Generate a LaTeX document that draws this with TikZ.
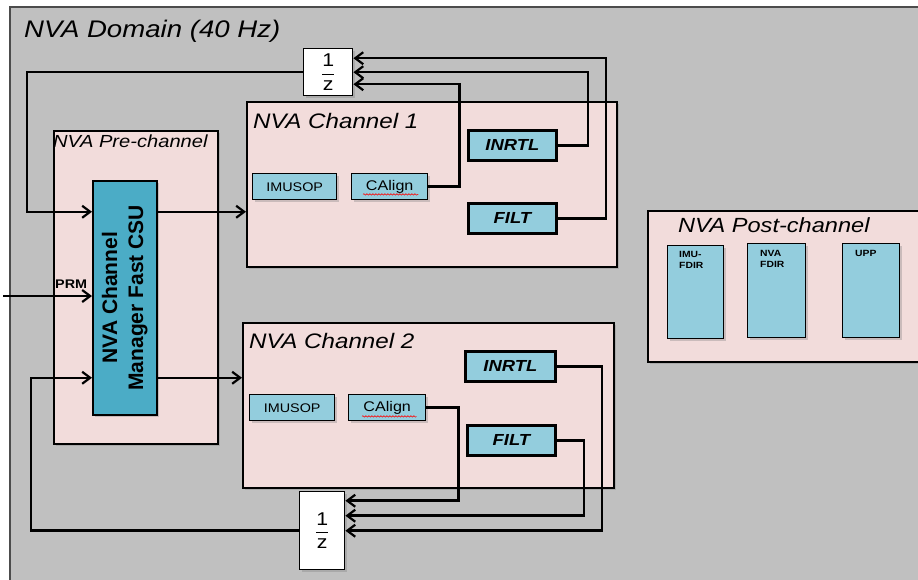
\documentclass[tikz,border=0pt]{standalone}
\usepackage{fontspec}
\setmainfont{Liberation Sans}[FakeStretch=1.15]
\newfontfamily\uprightsans{Liberation Sans}
\usetikzlibrary{positioning,calc,arrows.meta,shadows,decorations.pathmorphing}
\definecolor{domgray}{HTML}{C0C0C0}
\definecolor{chpink}{HTML}{F2DCDB}
\definecolor{unitblue}{HTML}{93CDDD}
\definecolor{mgrblue}{HTML}{4BACC6}

\begin{document}
\begin{tikzpicture}[x=1pt,y=-1pt,
    boxshadow/.style={drop shadow={shadow xshift=2pt,shadow yshift=-2pt,opacity=.35}},
    chan/.style={draw,line width=1.6pt,fill=chpink,anchor=north west,inner sep=0,boxshadow},
    unit/.style={draw,line width=1.4pt,fill=unitblue,anchor=north west,inner sep=0,boxshadow,font=\fontsize{12.5}{14}\selectfont},
    heavy/.style={unit,line width=2.8pt,font=\fontsize{16}{18}\selectfont\bfseries\itshape},
    delay/.style={draw,line width=1.4pt,fill=white,anchor=north west,inner sep=0,boxshadow,font=\fontsize{18.5}{20}\selectfont},
    title/.style={anchor=base west,inner sep=0,font=\fontsize{21}{24}\selectfont\itshape},
    tiny/.style={anchor=north west,inner sep=0,align=left,font=\fontsize{9}{11}\selectfont\bfseries},
    spell/.style={red,line width=.6pt,decorate,decoration={snake,amplitude=.7pt,segment length=3pt}},
    flow/.style={line width=2.5pt,-{Straight Barb[length=8pt,width=12pt,line width=2.2pt]}}]
    \useasboundingbox (0,0) rectangle (918,579);
    \fill[white] (0,0) rectangle (918,579);
    \fill[domgray] (10,7) rectangle (930,590);
    \draw[line width=1.5pt,black!70] (10,590) -- (10,7) -- (930,7);
    \node[title,font=\fontsize{24}{28}\selectfont\itshape] (domtitle) at (24,37) {NVA Domain (40 Hz)};

    \node[chan,minimum width=164,minimum height=313] (pre) at (53,130) {};
    \node[title,font=\fontsize{17.5}{20}\selectfont\itshape] (pretitle) at (53,147) {NVA Pre-channel};
    \node[unit,fill=mgrblue,line width=1.5pt,minimum width=64,minimum height=234] (mgr) at (92,180) {};
    \node[rotate=90,align=center,font=\uprightsans\fontsize{21}{26}\selectfont\bfseries] (mgrtext) at (mgr.center) {NVA Channel\\Manager Fast CSU};
    \node[anchor=base west,inner sep=0,font=\fontsize{12.5}{14}\selectfont\bfseries] (prm) at (55,288) {PRM};

    \node[chan,minimum width=370,minimum height=165] (ch1) at (246,101) {};
    \node[title] (ch1title) at (253,128) {NVA Channel 1};
    \node[unit,minimum width=84,minimum height=26] (imu1) at (252,173) {IMUSOP};
    \node[unit,minimum width=76,minimum height=26,font=\fontsize{14}{16}\selectfont] (cal1) at (351,173) {CAlign};
    \node[heavy,minimum width=88,minimum height=30] (inr1) at (467,129) {INRTL};
    \node[heavy,minimum width=88,minimum height=30] (fil1) at (467,202) {FILT};

    \node[chan,minimum width=371,minimum height=165] (ch2) at (242,322) {};
    \node[title] (ch2title) at (249,348) {NVA Channel 2};
    \node[unit,minimum width=85,minimum height=26] (imu2) at (249,394) {IMUSOP};
    \node[unit,minimum width=77,minimum height=26,font=\fontsize{14}{16}\selectfont] (cal2) at (348,394) {CAlign};
    \node[heavy,minimum width=90,minimum height=30] (inr2) at (464,350) {INRTL};
    \node[heavy,minimum width=88,minimum height=30] (fil2) at (466,424) {FILT};

    \node[chan,minimum width=280,minimum height=151] (post) at (647,210) {};
    \node[title,font=\fontsize{20.5}{24}\selectfont\itshape] (posttitle) at (678,232) {NVA Post-channel};
    \node[unit,minimum width=56,minimum height=93] (imuF) at (667,245) {};
    \node[unit,minimum width=58,minimum height=94] (nvaF) at (747,243) {};
    \node[unit,minimum width=57,minimum height=94] (upp) at (842,243) {};
    \node[tiny,below right=6pt and 12pt of imuF.north west] {IMU-\\FDIR};
    \node[tiny,below right=7pt and 13pt of nvaF.north west] {NVA\\FDIR};
    \node[tiny,below right=7pt and 13pt of upp.north west] {UPP};

    \node[delay,minimum width=49,minimum height=47] (zTop) at (303,48) {$\displaystyle\frac{\mbox{1}}{\mbox{z}}$};
    \node[delay,minimum width=45,minimum height=78] (zBot) at (299,491) {$\displaystyle\frac{\mbox{1}}{\mbox{z}}$};

    \draw[spell] ($(cal1.south west)+(12,-6)$) -- ($(cal1.south east)+(-10,-6)$);
    \draw[spell] ($(cal2.south west)+(14,-5)$) -- ($(cal2.south east)+(-10,-5)$);

    \coordinate (mgrInA) at ($(mgr.west)+(0,-86)$);
    \coordinate (mgrInB) at ($(mgr.west)+(0,80)$);
    \coordinate (prmIn) at (3,296);
    \draw[flow] (zTop.west) -- ++(-276,0) |- (mgrInA);
    \draw[flow] (mgr.east |- mgrInA) -- (ch1.west |- mgrInA);
    \draw[flow] (prmIn) -- (prmIn -| mgr.west);
    \draw[flow] (zBot.west) -- ++(-268,0) |- (mgrInB);
    \draw[flow] (mgr.east |- mgrInB) -- (ch2.west |- mgrInB);

    \draw[flow] (fil1.east) -- ++(48,0) |- ($(zTop.east)+(0,-14)$);
    \draw[flow] (inr1.east) -- ++(30,0) |- (zTop.east);
    \draw[flow] (cal1.east) -- ++(31,0) |- ($(zTop.east)+(0,12)$);
    \draw[flow] (cal2.east) -- ++(32,0) |- ($(zBot.east)+(0,-30)$);
    \draw[flow] (fil2.east) -- ++(27,0) |- ($(zBot.east)+(0,-15)$);
    \draw[flow] (inr2.east) -- ++(45,0) |- (zBot.east);
\end{tikzpicture}
\end{document}
